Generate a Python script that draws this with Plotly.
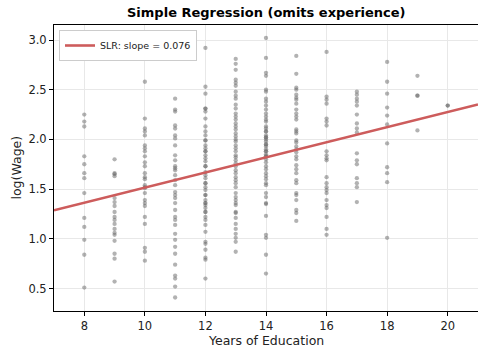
import plotly.graph_objects as go

lwage_educ8 = [2.25, 2.18, 2.13, 1.83, 1.75, 1.66, 1.61, 1.46, 1.21, 1.12, 0.99, 0.84, 0.51]
lwage_educ9 = [1.80, 1.66, 1.65, 1.63, 1.41, 1.37, 1.33, 1.27, 1.22, 1.19, 1.15, 1.10, 1.06,
               1.04, 0.98, 0.85, 0.80, 0.57]
lwage_educ10 = [2.58, 2.21, 2.11, 2.08, 2.04, 1.94, 1.91, 1.88, 1.83, 1.77, 1.73, 1.66, 1.62,
                1.60, 1.54, 1.52, 1.51, 1.46, 1.39, 1.36, 1.33, 1.22, 1.15, 0.91, 0.87, 0.78]
lwage_educ11 = [2.41, 2.30, 2.28, 2.14, 2.11, 2.04, 2.01, 1.94, 1.84, 1.79, 1.73, 1.71, 1.69,
                1.64, 1.59, 1.54, 1.47, 1.44, 1.41, 1.36, 1.29, 1.22, 1.19, 1.14, 1.05, 0.99,
                0.92, 0.85, 0.74, 0.63, 0.60, 0.52, 0.41]
lwage_educ12 = [2.92, 2.53, 2.46, 2.31, 2.28, 2.21, 2.13, 2.08, 2.04, 1.99, 1.94, 1.91, 1.88,
                1.84, 1.81, 1.78, 1.73, 1.67, 1.64, 1.61, 1.56, 1.52, 1.49, 1.44, 1.39, 1.36,
                1.34, 1.31, 1.27, 1.22, 1.19, 1.14, 1.07, 0.97, 0.95, 0.89, 0.81, 0.79, 0.60,
                2.31, 1.99, 1.88, 1.73, 1.56, 1.44, 1.36, 1.27]
lwage_educ13 = [2.81, 2.76, 2.70, 2.60, 2.57, 2.54, 2.48, 2.44, 2.41, 2.35, 2.31, 2.26, 2.23,
                2.20, 2.16, 2.13, 2.10, 2.06, 2.03, 2.00, 1.98, 1.94, 1.91, 1.88, 1.84, 1.82,
                1.79, 1.76, 1.73, 1.69, 1.66, 1.62, 1.59, 1.56, 1.52, 1.46, 1.42, 1.39, 1.36,
                1.34, 1.27, 1.26, 1.21, 1.15, 1.10, 1.05, 1.01, 0.97, 0.87]
lwage_educ14 = [3.02, 2.82, 2.67, 2.64, 2.50, 2.48, 2.41, 2.38, 2.34, 2.30, 2.26, 2.23, 2.20,
                2.18, 2.13, 2.11, 2.08, 2.04, 2.02, 2.00, 1.98, 1.95, 1.93, 1.90, 1.88, 1.85,
                1.83, 1.80, 1.77, 1.73, 1.70, 1.66, 1.63, 1.60, 1.56, 1.54, 1.46, 1.42, 1.36,
                1.35, 1.23, 1.04, 1.01, 0.84, 0.65, 2.08, 2.02, 1.95, 1.88, 1.83]
lwage_educ15 = [2.84, 2.66, 2.52, 2.50, 2.45, 2.42, 2.40, 2.36, 2.30, 2.26, 2.23, 2.20, 2.10,
                2.08, 2.06, 1.99, 1.97, 1.93, 1.90, 1.87, 1.83, 1.80, 1.74, 1.70, 1.66, 1.59,
                1.56, 1.46, 1.44, 1.39, 1.29, 1.26, 1.18]
lwage_educ16 = [2.88, 2.43, 2.40, 2.36, 2.21, 2.18, 2.14, 1.88, 1.84, 1.81, 1.79, 1.62, 1.56,
                1.52, 1.49, 1.46, 1.39, 1.34, 1.31, 1.22, 1.10, 1.04]
lwage_educ17 = [2.48, 2.45, 2.41, 2.38, 2.34, 2.25, 2.16, 2.11, 2.07, 1.86, 1.79, 1.75, 1.61,
                1.56, 1.52, 1.37]
lwage_educ18 = [2.78, 2.58, 2.46, 2.32, 2.24, 2.15, 1.96, 1.72, 1.66, 1.57, 1.01]
lwage_educ19 = [2.64, 2.44, 2.44, 2.09]
lwage_educ20 = [2.34, 2.34]

educ_levels = [8, 9, 10, 11, 12, 13, 14, 15, 16, 17, 18, 19, 20]
lwage_groups = [lwage_educ8, lwage_educ9, lwage_educ10, lwage_educ11, lwage_educ12,
                lwage_educ13, lwage_educ14, lwage_educ15, lwage_educ16, lwage_educ17,
                lwage_educ18, lwage_educ19, lwage_educ20]

# Fitted simple regression
slr_intercept = 0.755
slr_slope = 0.076
slr_label = "SLR: slope = 0.076"

x_range = [7, 21]
y_range = [0.274, 3.151]
x_ticks = [8, 10, 12, 14, 16, 18, 20]
y_ticks = [0.5, 1.0, 1.5, 2.0, 2.5, 3.0]

educ = []
lwage = []
for lvl, grp in zip(educ_levels, lwage_groups):
    educ += [lvl] * len(grp)
    lwage += grp

line_x = list(x_range)
line_y = [slr_intercept + slr_slope * v for v in line_x]

FONT = "DejaVu Sans"

fig = go.Figure()
fig.add_trace(go.Scatter(
    x=educ, y=lwage, mode="markers",
    marker=dict(color="#666666", size=4.3, opacity=0.5, line=dict(width=0)),
    showlegend=False, hoverinfo="skip",
))
fig.add_trace(go.Scatter(
    x=line_x, y=line_y, mode="lines",
    line=dict(color="#cd5c5c", width=2.6),
    name=slr_label,
))

W, H = 478, 348
ml, mr, mt, mb = 54, 0, 25, 37
pw, ph = W - ml - mr, H - mt - mb

fig.update_layout(
    template="none",
    width=W, height=H,
    margin=dict(l=ml, r=mr, t=mt, b=mb, pad=0, autoexpand=False),
    paper_bgcolor="white", plot_bgcolor="white",
    font=dict(family=FONT, size=11, color="black"),
    showlegend=True,
    legend=dict(
        x=5 / pw, y=1 - 5 / ph, xanchor="left", yanchor="top",
        bgcolor="white", bordercolor="#cccccc", borderwidth=1,
        font=dict(family=FONT, size=9.5, color="#222222"),
        itemwidth=30,
    ),
    xaxis=dict(
        range=x_range, tickvals=x_ticks, ticktext=[str(t) for t in x_ticks],
        automargin=False,
        showline=True, linecolor="black", linewidth=1, mirror=True,
        ticks="outside", ticklen=4, tickwidth=1, tickcolor="black",
        showgrid=True, gridcolor="#e8e8e8", gridwidth=1, zeroline=False,
        tickfont=dict(family=FONT, size=11.5, color="#222222"),
    ),
    yaxis=dict(
        range=y_range, tickvals=y_ticks, ticktext=[f"{t:.1f}" for t in y_ticks],
        automargin=False,
        showline=True, linecolor="black", linewidth=1, mirror=False,
        ticks="outside", ticklen=4, tickwidth=1, tickcolor="black",
        showgrid=True, gridcolor="#e8e8e8", gridwidth=1, zeroline=False,
        tickfont=dict(family=FONT, size=11.5, color="#222222"),
    ),
    annotations=[
        dict(text="<b>Simple Regression (omits experience)</b>", xref="paper", yref="paper",
             x=0.5, y=1 + (mt - 12.5) / ph, xanchor="center", yanchor="middle",
             showarrow=False, font=dict(family=FONT, size=13, color="black")),
        dict(text="Years of Education", xref="paper", yref="paper",
             x=0.5, y=-(340 - (mt + ph)) / ph, xanchor="center", yanchor="middle",
             showarrow=False, font=dict(family=FONT, size=12.5, color="#222222")),
        dict(text="log(Wage)", xref="paper", yref="paper",
             x=-(ml - 15.5) / pw, y=0.5, xanchor="center", yanchor="middle",
             textangle=-90, showarrow=False, font=dict(family=FONT, size=12.5, color="#222222")),
    ],
)

fig.write_html(
    "out.html",
    config={"displayModeBar": False},
    post_script="document.body.style.margin='0';document.body.style.overflow='hidden';",
)
